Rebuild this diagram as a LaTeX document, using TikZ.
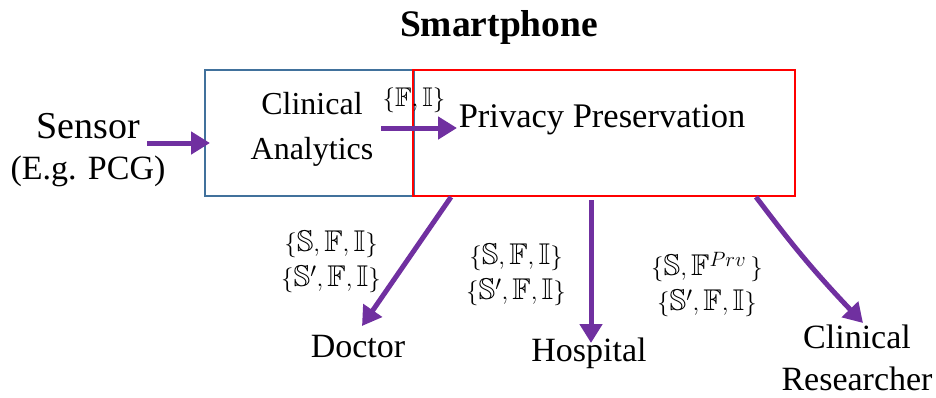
\documentclass[tikz,border=0pt]{standalone}
\usepackage{amssymb}
\usepackage{fontspec}
\setmainfont{Liberation Serif}
\usetikzlibrary{arrows.meta}
\definecolor{flowpurple}{HTML}{7030A0}
\definecolor{boxblue}{HTML}{41719C}
\tikzset{
  txt/.style={font=\fontsize{34}{40}\selectfont, align=center, inner sep=0pt},
  lbl/.style={font=\fontsize{30}{35}\selectfont, align=center, inner sep=0pt},
  flow/.style={draw=flowpurple, line width=5pt, -{Triangle[length=19pt,width=22pt]}},
}
\begin{document}
\begin{tikzpicture}[x=1pt,y=-1pt]
  \useasboundingbox (0,0) rectangle (936,397);
  % title
  \node[txt, font=\fontsize{37.5}{40}\selectfont\bfseries] (title) at (499,27) {Smartphone};
  % the two stages on the phone
  \draw[boxblue, line width=2.2pt] (205,70) rectangle (414,196);
  \draw[red, line width=2.2pt] (413,70) rectangle (795,196);
  \coordinate (blueW) at (210,143);
  \node[txt, font=\fontsize{32}{45}\selectfont] (clin) at (312,129) {Clinical\\Analytics};
  \node[txt, font=\fontsize{34.5}{40}\selectfont] (priv) at (602,120) {Privacy Preservation};
  \node[lbl, font=\fontsize{27}{30}\selectfont] (fi) at (414,100) {$\{\mathbb{F},\mathbb{I}\}$};
  \coordinate (caE) at (381,128);
  \coordinate (ppW) at (457,128);
  % sensor input
  \node[txt, font=\fontsize{38}{42}\selectfont] (sensor) at (88,150) {Sensor\\[-1pt]{\fontsize{34}{36}\selectfont (E.g. PCG)}};
  \coordinate (sensE) at (147,143);
  % receivers
  \node[txt] (doctor) at (358,347) {Doctor};
  \node[txt] (hosp) at (589,353) {Hospital};
  \node[txt, font=\fontsize{34}{42}\selectfont] (res) at (857,358) {Clinical\\Researcher};
  \coordinate (dA) at (451,197);
  \coordinate (dB) at (362,326);
  \coordinate (hA) at (591,200);
  \coordinate (hB) at (591,343);
  \coordinate (rA) at (756,197);
  \coordinate (rB) at (863,323);
  % shared data labels
  \node[lbl] (l1) at (331,262) {$\{\mathbb{S},\mathbb{F},\mathbb{I}\}$\\$\{\mathbb{S}',\mathbb{F},\mathbb{I}\}$};
  \node[lbl] (l2) at (516,275) {$\{\mathbb{S},\mathbb{F},\mathbb{I}\}$\\$\{\mathbb{S}',\mathbb{F},\mathbb{I}\}$};
  \node[lbl] (l3) at (707,285) {$\{\mathbb{S},\mathbb{F}^{Prv}\,\}$\\$\{\mathbb{S}',\mathbb{F},\mathbb{I}\}$};
  % data flows
  \draw[flow] (sensE) -- (blueW);
  \draw[flow] (caE) -- (ppW);
  \draw[flow] (dA) -- (dB);
  \draw[flow] (hA) -- (hB);
  \draw[flow] (rA) .. controls (785,235) and (805,262) .. (rB);
\end{tikzpicture}
\end{document}
